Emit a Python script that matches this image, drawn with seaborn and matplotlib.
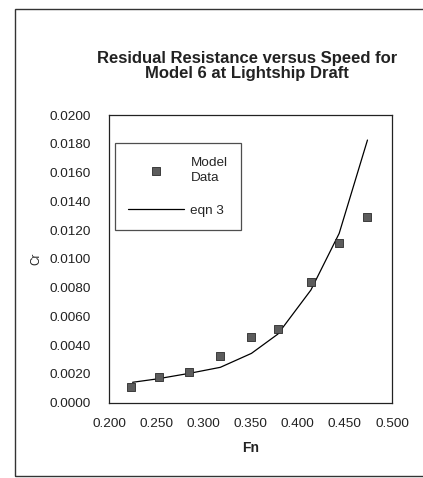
import matplotlib
matplotlib.use("Agg")
import matplotlib.pyplot as plt
import seaborn as sns
import pandas as pd
from matplotlib.patches import Rectangle

# Data
fn_data = [0.223, 0.253, 0.285, 0.318, 0.351, 0.379, 0.414, 0.444, 0.474]
cr_data = [0.00111, 0.00181, 0.00213, 0.00324, 0.00454, 0.00514, 0.00841, 0.01112, 0.01293]
fn_eqn = [0.225, 0.2505, 0.285, 0.318, 0.351, 0.379, 0.414, 0.444, 0.474]
cr_eqn = [0.00142, 0.00165, 0.00204, 0.00246, 0.00343, 0.00477, 0.00783, 0.01177, 0.01826]
x_ticks = [0.200, 0.250, 0.300, 0.350, 0.400, 0.450, 0.500]
y_ticks = [0.0000, 0.0020, 0.0040, 0.0060, 0.0080, 0.0100, 0.0120, 0.0140, 0.0160, 0.0180, 0.0200]
title = "Residual Resistance versus Speed for\nModel 6 at Lightship Draft"

df_data = pd.DataFrame({"Fn": fn_data, "Cr": cr_data})
df_eqn = pd.DataFrame({"Fn": fn_eqn, "Cr": cr_eqn})

sns.set_theme(style="white")
plt.rcParams['font.family'] = ['Liberation Sans', 'DejaVu Sans']

fig = plt.figure(figsize=(4.23, 4.78), dpi=100)
fig.patch.set_facecolor("white")
ax = fig.add_axes([0.2577, 0.1575, 0.669, 0.6019])

sns.lineplot(data=df_eqn, x="Fn", y="Cr", ax=ax, color="black", linewidth=0.9,
             label="eqn 3", sort=False)
sns.scatterplot(data=df_data, x="Fn", y="Cr", ax=ax, marker="s", s=26,
                color="#5c5c5c", edgecolor="#2a2a2a", linewidth=0.6,
                label="Model\nData", zorder=3)

ax.set_xlim(0.2, 0.5)
ax.set_ylim(0.0, 0.02)
ax.set_xticks(x_ticks)
ax.set_yticks(y_ticks)
ax.set_xticklabels([f"{v:.3f}" for v in x_ticks], fontsize=9.7, color="#222222")
ax.set_yticklabels([f"{v:.4f}" for v in y_ticks], fontsize=9.7, color="#222222")
ax.tick_params(axis="both", direction="in", length=3, width=0.8, color="#333333")
ax.tick_params(axis="x", pad=11)
ax.tick_params(axis="y", pad=13)
for s in ax.spines.values():
    s.set_color("#222222")
    s.set_linewidth(0.9)

ax.set_xlabel("Fn", fontsize=10, fontweight="bold", color="#222222", labelpad=8)
ax.set_ylabel("Cr", fontsize=8.5, color="#222222", labelpad=5)

handles, labels = ax.get_legend_handles_labels()
order = [labels.index("Model\nData"), labels.index("eqn 3")]
leg = ax.legend([handles[i] for i in order], [labels[i] for i in order],
                loc="upper left", bbox_to_anchor=(0.021, 0.9017), borderaxespad=0,
                fontsize=9.7, handlelength=4.1, frameon=True, fancybox=False,
                edgecolor="#222222", labelspacing=1.5, borderpad=1.0, handletextpad=0.5)
leg.get_frame().set_linewidth(0.9)
for t in leg.get_texts():
    t.set_linespacing(1.35)

fig.text(0.584, 0.862, title, ha="center", va="center", fontsize=12,
         fontweight="bold", color="#222222", linespacing=0.98)

fig.patches.append(Rectangle((15 / 423, 2 / 478), 1.0, 1 - 11 / 478,
                             transform=fig.transFigure, fill=False,
                             edgecolor="#333333", linewidth=1.0))

fig.savefig("out.png", dpi=100, facecolor="white")
